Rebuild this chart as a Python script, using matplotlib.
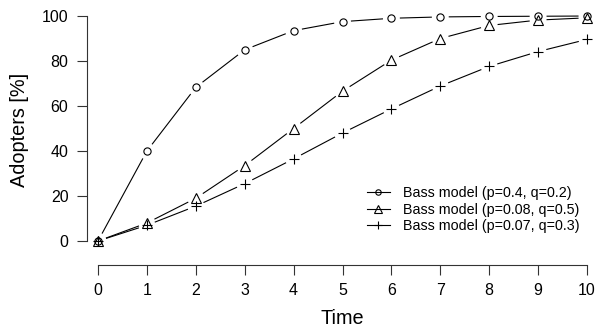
import numpy as np
import matplotlib
matplotlib.use('Agg')
import matplotlib.pyplot as plt
from matplotlib.lines import Line2D

plt.rcParams['font.family'] = ['Liberation Sans', 'DejaVu Sans']

# values
time = [0, 1, 2, 3, 4, 5, 6, 7, 8, 9, 10]
bass_p04_q02 = [0, 40, 68.3, 85, 93.5, 97.5, 99, 99.6, 99.8, 99.9, 100]
bass_p008_q05 = [0, 8, 19, 33.5, 50, 66.6, 80.4, 90, 95.8, 98.2, 99.2]
bass_p007_q03 = [0, 7, 15.5, 25.5, 36.5, 48, 58.7, 68.9, 77.6, 84.2, 89.6]
labels = ['Bass model (p=0.4, q=0.2)',
          'Bass model (p=0.08, q=0.5)',
          'Bass model (p=0.07, q=0.3)']
series = [bass_p04_q02, bass_p008_q05, bass_p007_q03]
markers = [('o', 5.2), ('^', 6.8), ('+', 7.0)]

W, H = 598, 326
fig = plt.figure(figsize=(W / 100, H / 100), dpi=100)
ax = fig.add_axes([87 / W, 61 / H, 511 / W, 260 / H])
ax.set_xlim(-0.225, 10.225)
ax.set_ylim(-10.67, 104.9)

lw = 0.8
gap = 9  # pixels of blank line around each point (R type="b")
for ys, (m, ms) in zip(series, markers):
    ax.plot(time, ys, linestyle='none', marker=m, markersize=ms,
            markerfacecolor='none', markeredgecolor='black',
            markeredgewidth=lw, color='black')
    pts = ax.transData.transform(np.column_stack([time, ys]))
    inv = ax.transData.inverted()
    for a, b in zip(pts[:-1], pts[1:]):
        d = b - a
        L = np.hypot(*d)
        if L <= 2 * gap:
            continue
        u = d / L
        seg = inv.transform(np.array([a + u * gap, b - u * gap]))
        ax.plot(seg[:, 0], seg[:, 1], color='black', linewidth=lw)

for s in ['top', 'right']:
    ax.spines[s].set_visible(False)
ax.spines['left'].set_bounds(0, 100)
ax.spines['bottom'].set_bounds(0, 10)
for s in ['left', 'bottom']:
    ax.spines[s].set_linewidth(lw)
    ax.spines[s].set_color('#333333')

ax.set_xticks(time)
ax.set_yticks([0, 20, 40, 60, 80, 100])
ax.tick_params(axis='both', direction='out', length=7.2, width=lw,
               color='#333333', labelsize=11.5)
ax.tick_params(axis='x', pad=5.5)
ax.tick_params(axis='y', pad=6.2)

fig.text(20 / W, 1 - 130 / H, 'Adopters [%]', rotation=90,
         ha='center', va='center', fontsize=14.3)
fig.text(342 / W, 1 - 318 / H, 'Time', ha='center', va='center', fontsize=14.3)

handles = [Line2D([], [], color='black', linewidth=lw, marker=m,
                  markersize=ms * 0.75, markerfacecolor='none',
                  markeredgewidth=lw)
           for m, ms in markers]
fig.legend(handles, labels, loc='upper left',
           bbox_to_anchor=(367 / W, 1 - 186 / H), frameon=False,
           fontsize=10.3, handlelength=1.6, handletextpad=0.9,
           labelspacing=0.18, borderpad=0, borderaxespad=0)

fig.savefig('out.png', dpi=100)
